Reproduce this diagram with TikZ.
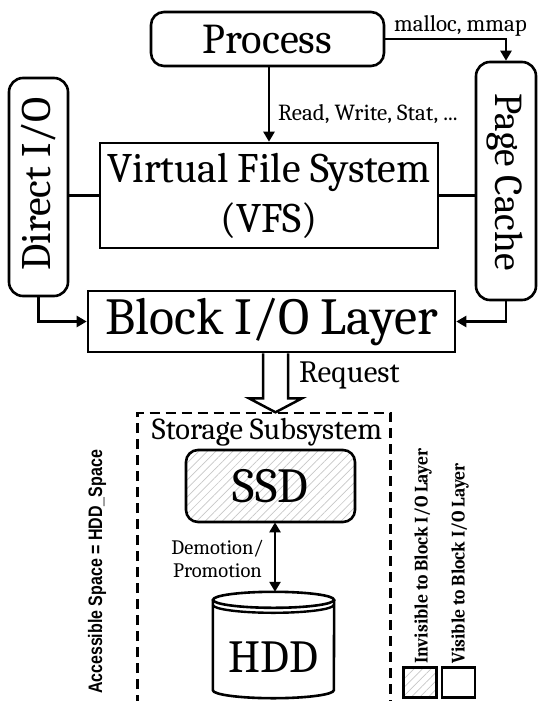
\documentclass[tikz,border=0pt]{standalone}
\usepackage{fontspec}
\IfFontExistsTF{Caladea}{\setmainfont{Caladea}}{\setmainfont{Liberation Serif}}
\newfontfamily\narrowsans[FakeStretch=0.82]{Liberation Sans}
\newfontfamily\legendserif[FakeStretch=0.93]{Caladea}
\usetikzlibrary{arrows.meta,patterns.meta,calc}
\newcommand\fsz[2]{\fontsize{#1}{#2}\selectfont}
\begin{document}
\begin{tikzpicture}[x=1pt,y=-1pt,
  box/.style={draw, line width=2.6pt, inner sep=0pt},
  rbox/.style={box, rounded corners=13pt},
  arr/.style={line width=2.4pt, -{Triangle[length=10pt,width=11pt]}},
  darr/.style={line width=2.4pt, {Triangle[length=10pt,width=11pt]}-{Triangle[length=10pt,width=11pt]}},
  conn/.style={line width=2.4pt},
  hatch/.style={pattern={Lines[angle=45,distance=6pt,line width=0.7pt]}, pattern color=black!22},
  small/.style={font=\fsz{23}{27}, inner sep=0pt}
]
\useasboundingbox (0,0) rectangle (539,701);

% top row
\node[rbox, minimum width=233, minimum height=54] (proc) at (267.5,39) {};
\node[font=\fsz{42.5}{50}] (procT) at (proc.center) {Process};

\node[rbox, rounded corners=14pt, minimum width=59, minimum height=218] (dio) at (38.5,187) {};
\node[rotate=90, font=\fsz{42}{50}] (dioT) at (39,184) {Direct I/O};

\node[rbox, rounded corners=14pt, minimum width=60, minimum height=238] (pc) at (506,181) {};
\node[rotate=-90, font=\fsz{39.5}{46}] (pcT) at (505,182) {Page Cache};

\node[box, minimum width=338, minimum height=105, align=center, font=\fsz{42}{50}] (vfs) at (269,195.5) {Virtual File System\\(VFS)};

\node[box, minimum width=367, minimum height=61, font=\fsz{52}{60}] (blk) at (271.5,321.5) {Block I/O Layer};

% connectors
\draw[arr] (proc.east) -| (pc.north);
\node[small, anchor=base] (mlab) at (460.5,32) {malloc, mmap};
\draw[arr] (vfs.north |- proc.south) -- (vfs.north);
\node[small, anchor=base west] (rlab) at (278,120) {Read, Write, Stat, ...};
\draw[conn] (dio.east |- vfs.west) -- (vfs.west);
\draw[conn] (vfs.east) -- (pc.west |- vfs.east);
\draw[arr] (dio.south) |- (blk.west);
\draw[arr] (pc.south) |- (blk.east);

% request arrow
\coordinate (rq) at (275.5,0);
\draw[line width=2.5pt, fill=white, line join=miter]
  ($(blk.south -| rq)+(-12.5,0)$) -- ++(0,45) -- ++(-14,0)
  -- ($(blk.south -| rq)+(0,59)$) -- ++(26.5,-14) -- ++(-14,0) -- ++(0,-45);
\node[font=\fsz{31}{36}, anchor=west, inner sep=0pt] (req) at (299,375) {Request};

% storage subsystem frame
\coordinate (fl) at (137.5,413);
\coordinate (fr) at (390.5,413);
\draw[line width=2.6pt, dash pattern=on 10pt off 6pt] (fl |- 0,705) -- (fl) -- (fr) -- (fr |- 0,705);
\node[font=\fsz{30.5}{36}] (sst) at (267,432) {Storage Subsystem};

% SSD
\node[rbox, rounded corners=12pt, hatch, minimum width=169, minimum height=72, font=\fsz{49}{56}] (ssd) at (270.5,486) {SSD};

% HDD cylinder
\node[inner sep=0pt, minimum width=121, minimum height=106] (hdd) at (273.5,645) {};
\draw[line width=2.6pt] ($(hdd.north)+(0,8)$) ellipse [x radius=60.5pt, y radius=8pt];
\draw[line width=2.4pt] ($(hdd.north west)+(0,13)$) arc[start angle=180, end angle=360, x radius=60.5pt, y radius=8pt];
\draw[line width=2.6pt] ($(hdd.north west)+(0,8)$) -- ($(hdd.south west)+(0,-8)$)
  arc[start angle=180, end angle=360, x radius=60.5pt, y radius=8pt]
  -- ($(hdd.north east)+(0,8)$);
\node[font=\fsz{46}{54}] (hddT) at (273.5,657) {HDD};

\coordinate (dm) at (275,0);
\draw[darr] (ssd.south -| dm) -- (hdd.north -| dm);
\node[align=center, font=\fsz{20.5}{23}] (dlab) at (217.5,559) {Demotion/\\Promotion};

% side label
\node[rotate=90, font=\narrowsans\bfseries\fsz{19.5}{22}, inner sep=0pt] (acc) at (97,572) {Accessible Space = HDD\_Space};

% legend
\node[rotate=90, anchor=west, font=\legendserif\bfseries\fsz{19}{22}, inner sep=0pt] (inv) at (423,664) {Invisible to Block I/O Layer};
\node[rotate=90, anchor=west, font=\legendserif\bfseries\fsz{19}{22}, inner sep=0pt] (vis) at (460,664) {Visible to Block I/O Layer};
\node[box, hatch, minimum width=33, minimum height=30] (lg1) at (420,682.5) {};
\node[box, minimum width=33, minimum height=30] (lg2) at (458.5,682.5) {};
\end{tikzpicture}
\end{document}
